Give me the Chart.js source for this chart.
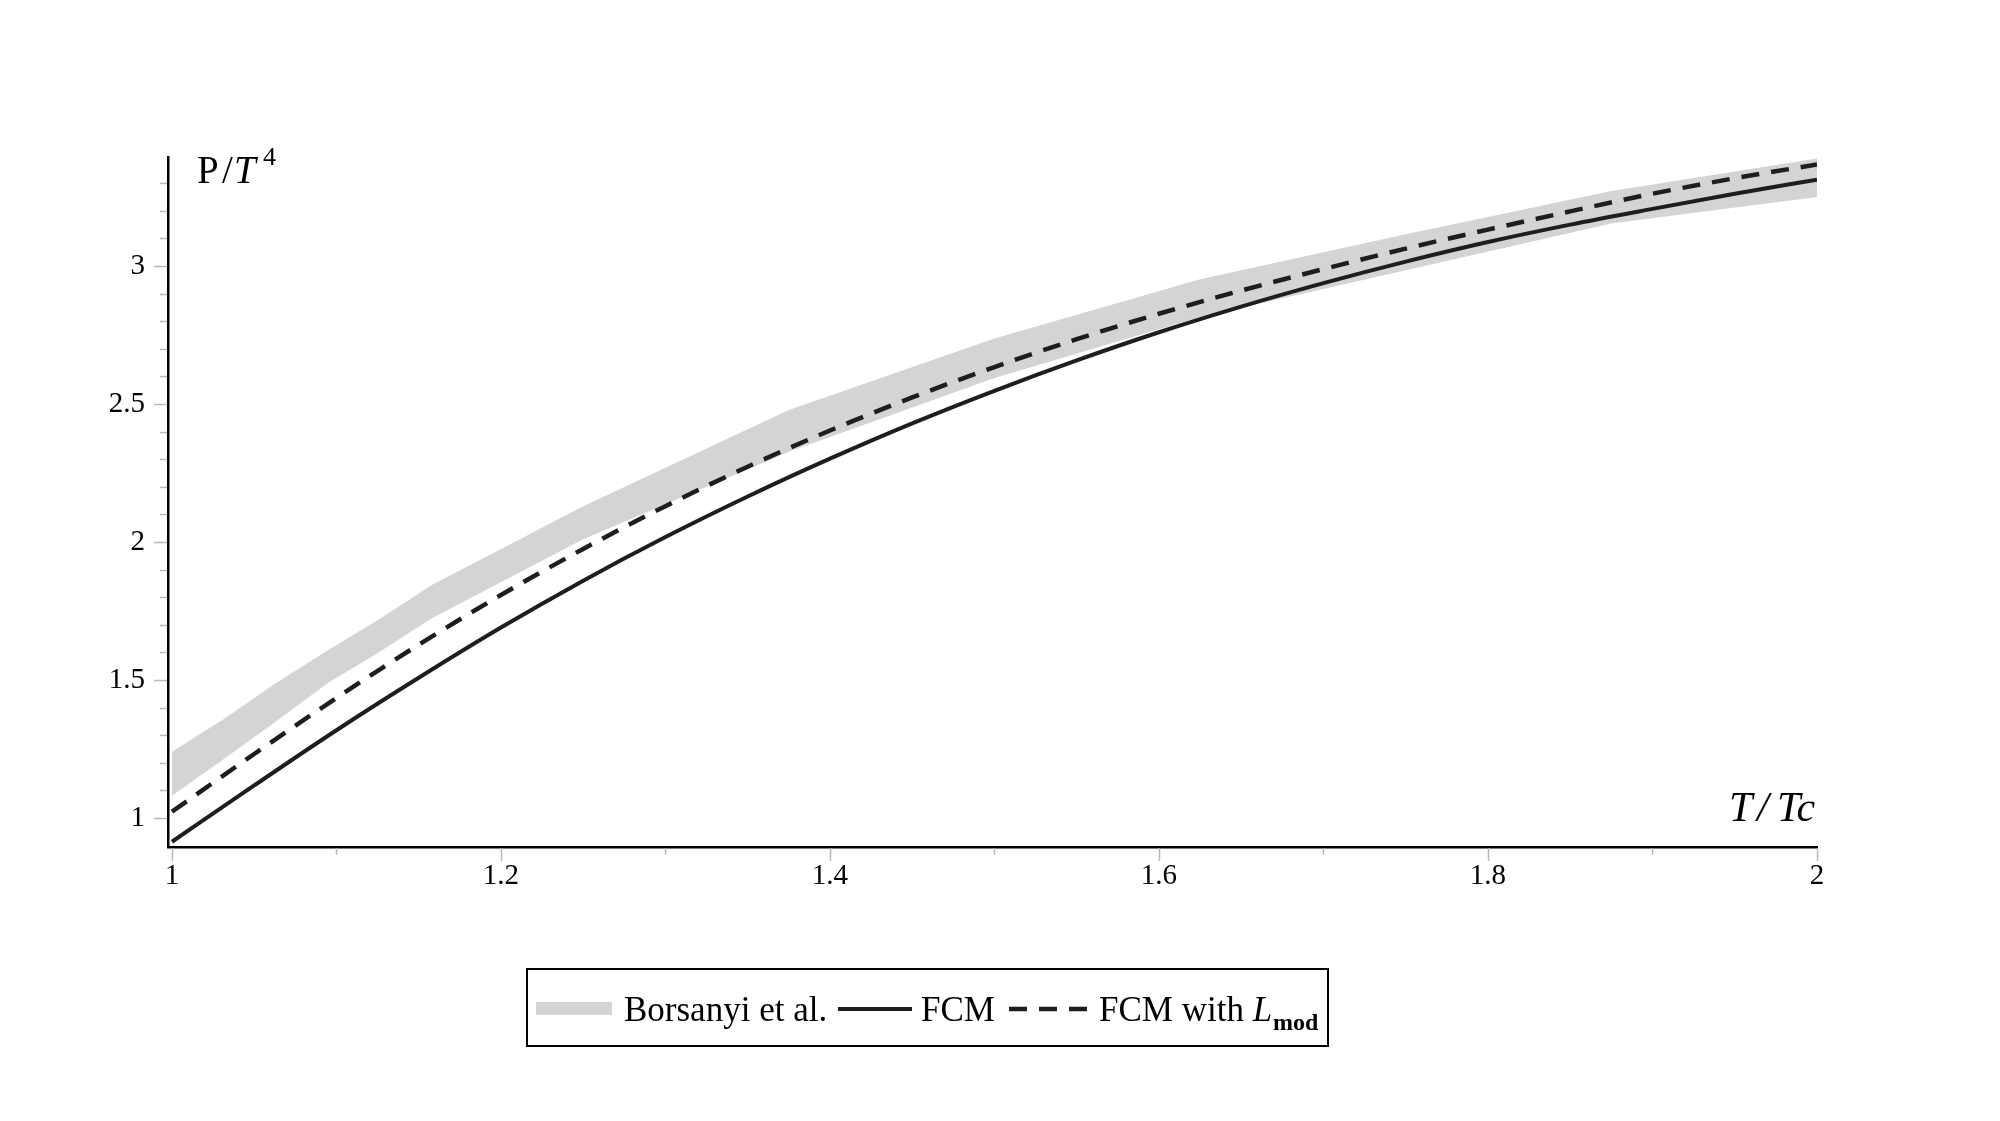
<!DOCTYPE html>
<html>
<head>
<meta charset="utf-8">
<title>P/T^4 vs T/Tc</title>
<script src="https://cdn.jsdelivr.net/npm/chart.js@4.4.1/dist/chart.umd.min.js"></script>
<style>
  html, body { margin: 0; padding: 0; background: #fff; }
  #chartBox { width: 2000px; height: 1121px; }
</style>
</head>
<body>
<div id="chartBox"><canvas id="pressureChart" width="2000" height="1121"></canvas></div>
<script>
'use strict';
// ---------------------- Data -----------------
const curveT = [1.00, 1.05, 1.10, 1.15, 1.20, 1.25, 1.30, 1.35, 1.40, 1.45, 1.50,
  1.55, 1.60, 1.65, 1.70, 1.75, 1.80, 1.85, 1.90, 1.95, 2.00];
const fcmValues = [0.914, 1.118, 1.318, 1.508, 1.690, 1.860, 2.018, 2.165, 2.302, 2.430, 2.548,
  2.658, 2.760, 2.853, 2.938, 3.016, 3.087, 3.150, 3.207, 3.262, 3.313];
const fcmModValues = [1.023, 1.232, 1.435, 1.628, 1.808, 1.975, 2.130, 2.273, 2.404, 2.524, 2.634,
  2.735, 2.827, 2.911, 2.989, 3.063, 3.132, 3.198, 3.262, 3.318, 3.368];

// lattice band (Borsanyi et al.)
const bandT = [1.0, 1.032, 1.063, 1.095, 1.125, 1.158, 1.25, 1.375, 1.5, 1.625, 1.75, 1.875, 2.0];
const bandLower = [1.081, 1.216, 1.349, 1.490, 1.597, 1.724, 2.010, 2.327, 2.594, 2.815, 2.985, 3.154, 3.250];
const bandUpper = [1.240, 1.361, 1.488, 1.609, 1.717, 1.844, 2.130, 2.478, 2.737, 2.952, 3.115, 3.272, 3.390];

const xTickLabels = [1, 1.2, 1.4, 1.6, 1.8, 2];
const yTickLabels = [1, 1.5, 2, 2.5, 3];
const legendLabels = ['Borsanyi et al.', 'FCM', 'FCM with '];

// ---------------------- Styles -----------------
const serif = '"Liberation Serif", "DejaVu Serif", serif';
const bandGray = '#d3d4d6';
const lineBlack = '#1e1e1e';
const tickGray = '#b8b8b8';

// -------------------- Helpers -----------------
function toPoints(xs, ys) {
  return xs.map((x, i) => ({ x: x, y: ys[i] }));
}

function minorSteps(from, to) {
  const steps = [];
  for (let v = Math.round(from * 10); v <= Math.round(to * 10); v++) {
    steps.push(v / 10);
  }
  return steps;
}

function isLabelled(value, list) {
  return list.some((l) => Math.abs(l - value) < 1e-6);
}

function labelFor(value, list) {
  return isLabelled(value, list) ? String(+value.toFixed(1)) : '';
}

function strokeLine(ctx, x1, y1, x2, y2) {
  ctx.beginPath();
  ctx.moveTo(x1, y1);
  ctx.lineTo(x2, y2);
  ctx.stroke();
}

// ---------------- Plugin: tick marks, axis titles, legend -----------
const axisDecor = {
  id: 'axisDecor',
  afterDraw(chart) {
    const ctx = chart.ctx;
    const xScale = chart.scales.x;
    const yScale = chart.scales.y;
    const area = chart.chartArea;
    ctx.save();

    // tick marks, long for labelled ticks
    ctx.strokeStyle = tickGray;
    ctx.lineWidth = 1.5;
    for (const tick of xScale.ticks) {
      const px = Math.round(xScale.getPixelForValue(tick.value)) + 0.5;
      const len = isLabelled(tick.value, xTickLabels) ? 13 : 7;
      strokeLine(ctx, px, area.bottom + 1, px, area.bottom + 1 + len);
    }
    for (const tick of yScale.ticks) {
      const py = Math.round(yScale.getPixelForValue(tick.value)) + 0.5;
      const len = isLabelled(tick.value, yTickLabels) ? 13 : 7;
      strokeLine(ctx, area.left - 1, py, area.left - 1 - len, py);
    }

    // axis titles
    ctx.fillStyle = '#000';
    ctx.textBaseline = 'alphabetic';
    ctx.textAlign = 'left';
    ctx.font = '39px ' + serif;
    ctx.fillText('P', 197, 183);
    ctx.fillText('/', 222, 183);
    ctx.font = 'italic 39px ' + serif;
    ctx.fillText('T', 234, 183);
    ctx.font = '26px ' + serif;
    ctx.fillText('4', 263, 165);

    ctx.font = 'italic 42px ' + serif;
    ctx.fillText('T', 1729, 821);
    ctx.fillText('/', 1757, 821);
    ctx.fillText('Tc', 1777, 821);

    // legend
    const boxY = 969;
    const midY = 1009;
    ctx.strokeStyle = '#000';
    ctx.lineWidth = 2;
    ctx.strokeRect(527, boxY, 801, 77);

    ctx.fillStyle = bandGray;
    ctx.fillRect(536, midY - 7, 76, 13);

    ctx.strokeStyle = lineBlack;
    ctx.lineWidth = 4;
    strokeLine(ctx, 838, midY, 912, midY);
    ctx.lineWidth = 4.5;
    ctx.setLineDash([18, 12]);
    strokeLine(ctx, 1009, midY, 1087, midY);
    ctx.setLineDash([]);

    ctx.fillStyle = '#000';
    ctx.font = '35px ' + serif;
    ctx.fillText(legendLabels[0], 624, 1021);
    ctx.fillText(legendLabels[1], 921, 1021);
    ctx.fillText(legendLabels[2], 1099, 1021);
    let x = 1099 + ctx.measureText(legendLabels[2]).width;
    ctx.font = 'italic 35px ' + serif;
    ctx.fillText('L', x, 1021);
    x += ctx.measureText('L').width + 1;
    ctx.font = 'bold 24px ' + serif;
    ctx.fillText('mod', x, 1030);

    ctx.restore();
  }
};

// -------------------- Chart -----------------------
const tickFont = { family: serif, size: 29 };

new Chart(document.getElementById('pressureChart'), {
  type: 'line',
  data: {
    datasets: [
      {
        label: 'FCM',
        data: toPoints(curveT, fcmValues),
        borderColor: lineBlack,
        borderWidth: 4,
        pointRadius: 0,
        cubicInterpolationMode: 'monotone',
        fill: false
      },
      {
        label: 'FCM with L_mod',
        data: toPoints(curveT, fcmModValues),
        borderColor: lineBlack,
        borderWidth: 4.5,
        borderDash: [18, 12],
        pointRadius: 0,
        cubicInterpolationMode: 'monotone',
        fill: false
      },
      {
        label: 'Borsanyi lower',
        data: toPoints(bandT, bandLower),
        borderWidth: 0,
        borderColor: 'rgba(0,0,0,0)',
        pointRadius: 0,
        tension: 0,
        fill: false
      },
      {
        label: 'Borsanyi et al.',
        data: toPoints(bandT, bandUpper),
        borderWidth: 0,
        borderColor: 'rgba(0,0,0,0)',
        backgroundColor: bandGray,
        pointRadius: 0,
        tension: 0,
        fill: '-1'
      }
    ]
  },
  options: {
    responsive: false,
    animation: false,
    events: [],
    layout: { padding: { top: 157, right: 183, left: 0, bottom: 0 } },
    plugins: {
      legend: { display: false },
      tooltip: { enabled: false },
      filler: { drawTime: 'beforeDatasetsDraw' }
    },
    scales: {
      x: {
        type: 'linear',
        min: 0.9976,
        max: 2,
        afterBuildTicks: (scale) => { scale.ticks = minorSteps(1, 2).map((v) => ({ value: v })); },
        afterFit: (scale) => { scale.height = 274; },
        grid: { drawOnChartArea: false, drawTicks: false },
        border: { color: '#000', width: 2.5 },
        ticks: {
          autoSkip: false,
          maxRotation: 0,
          padding: 12,
          color: '#000',
          font: tickFont,
          callback: (value) => labelFor(value, xTickLabels)
        }
      },
      y: {
        type: 'linear',
        min: 0.895,
        max: 3.395,
        afterBuildTicks: (scale) => { scale.ticks = minorSteps(1, 3.3).map((v) => ({ value: v })); },
        afterFit: (scale) => { scale.width = 168; },
        grid: { drawOnChartArea: false, drawTicks: false },
        border: { color: '#000', width: 2.5 },
        ticks: {
          autoSkip: false,
          padding: 23,
          color: '#000',
          font: tickFont,
          callback: (value) => labelFor(value, yTickLabels)
        }
      }
    }
  },
  plugins: [axisDecor]
});
</script>
</body>
</html>
